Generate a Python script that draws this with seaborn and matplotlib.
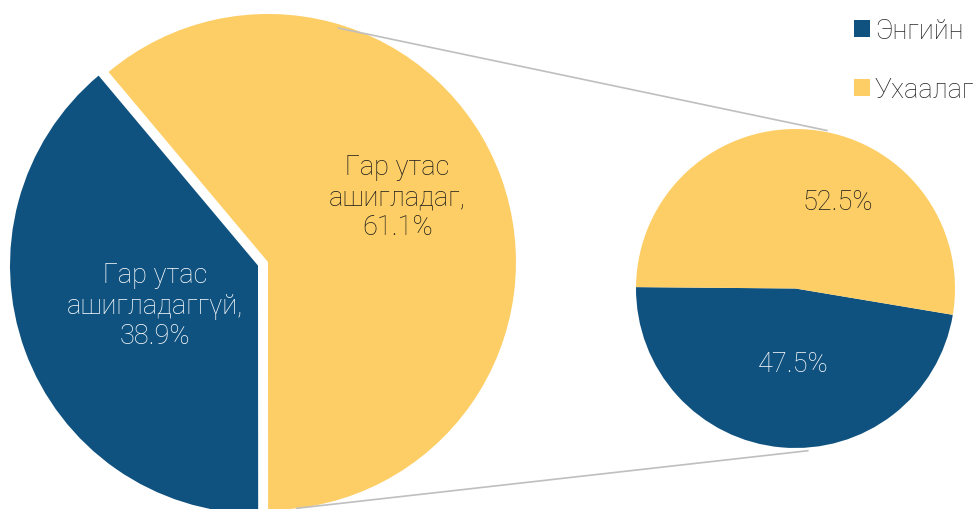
import numpy as np
import matplotlib
matplotlib.use("Agg")
import matplotlib.pyplot as plt
import seaborn as sns
from matplotlib.patches import Patch

# main pie: phone use
use_labels = ["Гар утас\nашигладаггүй", "Гар утас\nашигладаг"]
use_values = [38.9, 61.1]

# secondary pie: type of phone among users
type_labels = ["Энгийн", "Ухаалаг"]
type_values = [47.5, 52.5]

sns.set_theme(style="white")
plt.rcParams['font.family'] = ['Roboto', 'DejaVu Sans']

colors = sns.color_palette(["#10527F", "#FDCE65"])
text_colors = ["white", "#1a1a1a"]
fs = 19.5

fig = plt.figure(figsize=(9.74, 5.10), dpi=100)
ax = fig.add_axes([0, 0, 1, 1])

# left pie (pixel-like units, y up); explode offset is in data units here
left_wedges, _ = ax.pie(use_values, colors=colors, startangle=130, counterclock=True,
                        center=(258, 243.4), radius=248, explode=[0, 10.6],
                        wedgeprops=dict(linewidth=0))
right_wedges, _ = ax.pie(type_values, colors=colors, startangle=179.5, counterclock=True,
                         center=(795.5, 220.5), radius=159.5,
                         wedgeprops=dict(linewidth=0))


def polar(wedge, ang, frac):
    cx, cy = wedge.center
    a = np.deg2rad(ang)
    return cx + frac * wedge.r * np.cos(a), cy + frac * wedge.r * np.sin(a)


# labels for the left pie
left_pos = [(201, 0.445), (26.7, 0.585)]
for w, lab, val, (ang, frac), tc in zip(left_wedges, use_labels, use_values, left_pos, text_colors):
    x, y = polar(w, ang, frac)
    ax.text(x, y, f"{lab},\n{val:.1f}%", ha="center", va="center", fontsize=fs,
            fontweight="light", color=tc, linespacing=1.15)

# labels for the right pie
right_pos = [(-92, 0.47), (64, 0.61)]
for w, val, (ang, frac), tc in zip(right_wedges, type_values, right_pos, text_colors):
    x, y = polar(w, ang, frac)
    ax.text(x, y, f"{val:.1f}%", ha="center", va="center", fontsize=fs,
            fontweight="light", color=tc)

# connector lines from the exploded slice to the secondary pie
yel = left_wedges[1]
sec = right_wedges[1]
for (a1, f1), (a2, f2) in [((73.3, 0.985), (78.7, 1.01)), ((-83.3, 1.0), (-85.6, 1.02))]:
    x1, y1 = polar(yel, a1, f1)
    x2, y2 = polar(sec, a2, f2)
    ax.plot([x1, x2], [y1, y2], color="#BFBFBF", lw=1.2, zorder=3)

ax.set_xlim(0, 974)
ax.set_ylim(0, 510)
ax.set_aspect("equal")
ax.axis("off")

handles = [Patch(facecolor=c, edgecolor="none") for c in colors]
fig.legend(handles, type_labels, loc="upper left", bbox_to_anchor=(843 / 974, 1 - 7 / 510),
           frameon=False, prop=dict(size=fs, weight="light"),
           handlelength=0.58, handleheight=0.58, handletextpad=0.2, labelspacing=1.18,
           borderaxespad=0)

fig.savefig("out.png", dpi=100)
